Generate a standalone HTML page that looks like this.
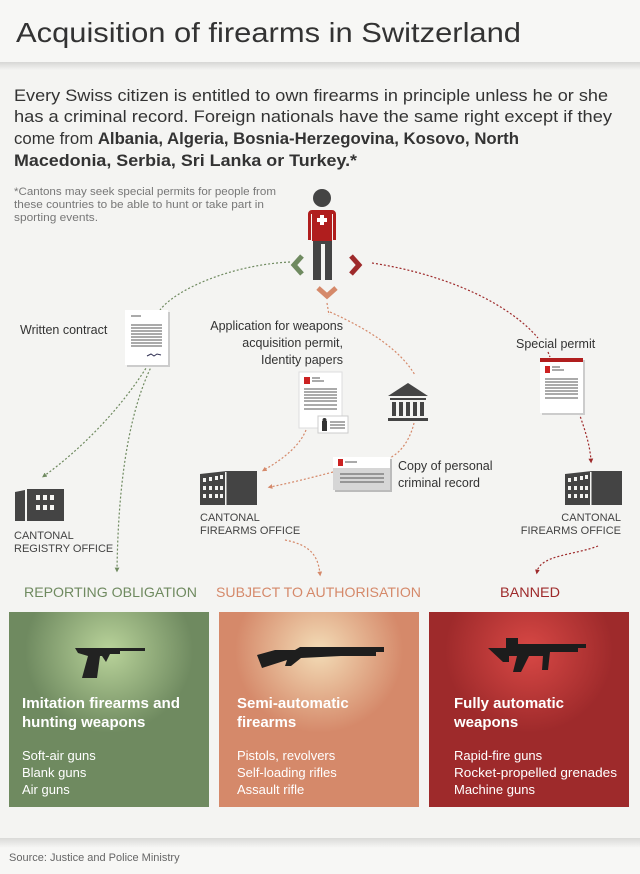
<!DOCTYPE html>
<html><head><meta charset="utf-8"><style>
html,body{margin:0;padding:0;background:#f4f4f2;}
svg{display:block;font-family:"Liberation Sans",sans-serif;}
</style></head><body>
<svg width="640" height="874" viewBox="0 0 640 874" xmlns="http://www.w3.org/2000/svg">
<defs>
<linearGradient id="sh" x1="0" y1="0" x2="0" y2="1"><stop offset="0" stop-color="#000" stop-opacity="0.12"/><stop offset="1" stop-color="#000" stop-opacity="0"/></linearGradient>
<radialGradient id="gg" cx="0.5" cy="0.2" r="0.6"><stop offset="0" stop-color="#b9d39a"/><stop offset="0.7" stop-color="#6f8a60"/><stop offset="1" stop-color="#6f8a60"/></radialGradient>
<radialGradient id="og" cx="0.5" cy="0.2" r="0.6"><stop offset="0" stop-color="#f3dcb6"/><stop offset="0.7" stop-color="#d5896a"/><stop offset="1" stop-color="#d5896a"/></radialGradient>
<radialGradient id="rg" cx="0.5" cy="0.2" r="0.6"><stop offset="0" stop-color="#d84845"/><stop offset="0.7" stop-color="#9e2a2b"/><stop offset="1" stop-color="#9e2a2b"/></radialGradient>
<marker id="ag" viewBox="0 0 10 10" refX="5" refY="5" markerWidth="4" markerHeight="4" orient="auto"><path d="M0,0L10,5L0,10z" fill="#6f8a60"/></marker>
<marker id="ao" viewBox="0 0 10 10" refX="5" refY="5" markerWidth="4" markerHeight="4" orient="auto"><path d="M0,0L10,5L0,10z" fill="#d5896a"/></marker>
<marker id="ar" viewBox="0 0 10 10" refX="5" refY="5" markerWidth="4" markerHeight="4" orient="auto"><path d="M0,0L10,5L0,10z" fill="#9e2a2b"/></marker>
</defs>
<rect width="640" height="62" fill="#f7f7f5"/>
<rect y="62" width="640" height="8" fill="url(#sh)"/>
<text x="16" y="42" font-size="28" fill="#333" textLength="505" lengthAdjust="spacingAndGlyphs">Acquisition of firearms in Switzerland</text>
<g font-size="17" fill="#333">
<text x="14" y="101" textLength="594" lengthAdjust="spacingAndGlyphs">Every Swiss citizen is entitled to own firearms in principle unless he or she</text>
<text x="14" y="122" textLength="598" lengthAdjust="spacingAndGlyphs">has a criminal record. Foreign nationals have the same right except if they</text>
<text x="14" y="144" textLength="505" lengthAdjust="spacingAndGlyphs">come from <tspan font-weight="bold">Albania, Algeria, Bosnia-Herzegovina, Kosovo, North</tspan></text>
<text x="14" y="166" font-weight="bold" textLength="343" lengthAdjust="spacingAndGlyphs">Macedonia, Serbia, Sri Lanka or Turkey.*</text>
</g>
<g font-size="11" fill="#777">
<text x="14" y="195" textLength="262" lengthAdjust="spacingAndGlyphs">*Cantons may seek special permits for people from</text>
<text x="14" y="208" textLength="250" lengthAdjust="spacingAndGlyphs">these countries to be able to hunt or take part in</text>
<text x="14" y="221" textLength="84" lengthAdjust="spacingAndGlyphs">sporting events.</text>
</g>
<!-- person -->
<circle cx="322" cy="198" r="9" fill="#444"/>
<path d="M312,210h20a4,4 0 0 1 4,4v26h-3v-26h-1v27h-20v-27h-1v26h-3v-26a4,4 0 0 1 4,-4z" fill="#b01e1e"/>
<path d="M313,241h19v39h-7v-36h-4v36h-8z" fill="#444"/>
<path d="M320,215h4v3h3v4h-3v3h-4v-3h-3v-4h3z" fill="#fff"/>
<path d="M302,256l-8,9l8,9" stroke="#6f8a60" stroke-width="5" fill="none"/>
<path d="M351,256l8,9l-8,9" stroke="#9e2a2b" stroke-width="5" fill="none"/>
<path d="M318,288l9,8l9,-8" stroke="#d5896a" stroke-width="5" fill="none"/>
<!-- connectors -->
<g fill="none" stroke-width="1.2" stroke-dasharray="2,2">
<path d="M290,262C230,265 175,290 160,310" stroke="#6f8a60"/>
<path d="M148,365C120,410 80,450 44,476" stroke="#6f8a60" marker-end="url(#ag)"/>
<path d="M152,365C125,420 118,500 117,570" stroke="#6f8a60" marker-end="url(#ag)"/>
<path d="M327,303L329,315" stroke="#d5896a"/>
<path d="M330,312C370,330 400,350 415,375" stroke="#d5896a"/>
<path d="M414,423C410,440 400,455 385,460" stroke="#d5896a"/>
<path d="M333,472C310,478 290,483 270,487" stroke="#d5896a" marker-end="url(#ao)"/>
<path d="M306,430C300,445 285,458 264,470" stroke="#d5896a" marker-end="url(#ao)"/>
<path d="M285,540C310,545 318,555 320,574" stroke="#d5896a" marker-end="url(#ao)"/>
<path d="M372,263C450,275 510,305 538,338" stroke="#9e2a2b"/>
<path d="M548,352L550,357" stroke="#9e2a2b"/>
<path d="M579,413C585,430 590,445 591,461" stroke="#9e2a2b" marker-end="url(#ar)"/>
<path d="M598,546C575,555 540,555 537,572" stroke="#9e2a2b" marker-end="url(#ar)"/>
</g>
<!-- written contract -->
<text x="20" y="334" font-size="12.5" fill="#333">Written contract</text>
<rect x="127" y="312" width="43" height="55" fill="#ccc"/>
<rect x="125" y="310" width="43" height="55" fill="#fff"/>
<g stroke="#555" stroke-width="1"><path d="M131,316h10M131,325h31M131,328h31M131,331h31M131,334h31M131,337h31M131,340h31M131,343h31M131,346h31"/></g>
<path d="M147,356l4,-2l3,2l3,-2l4,1" stroke="#335" fill="none"/>
<!-- application -->
<g font-size="12.5" fill="#333" text-anchor="end">
<text x="343" y="330">Application for weapons</text>
<text x="343" y="347">acquisition permit,</text>
<text x="343" y="364">Identity papers</text>
</g>
<rect x="299" y="372" width="43" height="56" fill="#fff" stroke="#ddd"/>
<rect x="304" y="377" width="6" height="7" fill="#c22"/>
<g stroke="#555"><path d="M312,378h8M312,381h12M304,389h33M304,392h33M304,395h33M304,398h33M304,401h33M304,405h33M304,409h33"/></g>
<rect x="318" y="416" width="30" height="17" fill="#fff" stroke="#ccc"/>
<rect x="322" y="421" width="5" height="10" fill="#333"/><circle cx="324.5" cy="420" r="2" fill="#333"/>
<g stroke="#555"><path d="M330,422h15M330,425h15M330,428h15"/></g>
<!-- bank -->
<path d="M388,396l20,-13l20,13z" fill="#444"/>
<g fill="#444"><rect x="390" y="398" width="36" height="2"/><rect x="392" y="402" width="4" height="14"/><rect x="399" y="402" width="4" height="14"/><rect x="406" y="402" width="4" height="14"/><rect x="413" y="402" width="4" height="14"/><rect x="420" y="402" width="4" height="14"/><rect x="388" y="418" width="40" height="3"/></g>
<!-- criminal record -->
<rect x="335" y="459" width="57" height="33" fill="#bbb"/>
<rect x="333" y="457" width="57" height="33" fill="#d6d6d6"/>
<rect x="333" y="457" width="57" height="11" fill="#fff"/>
<rect x="338" y="459" width="5" height="7" fill="#c22"/>
<g stroke="#555"><path d="M345,462h12M340,474h44M340,478h44M340,482h44"/></g>
<text x="398" y="470" font-size="12.5" fill="#333">Copy of personal</text>
<text x="398" y="487" font-size="12.5" fill="#333">criminal record</text>
<!-- special permit -->
<text x="516" y="348" font-size="12.5" fill="#333">Special permit</text>
<rect x="542" y="360" width="43" height="55" fill="#ccc"/>
<rect x="540" y="358" width="43" height="55" fill="#fff"/>
<rect x="540" y="358" width="43" height="4" fill="#b01e1e"/>
<rect x="545" y="366" width="5" height="7" fill="#c22"/>
<g stroke="#555"><path d="M552,367h8M552,370h12M545,379h33M545,382h33M545,385h33M545,388h33M545,391h33M545,394h33M545,398h33"/></g>
<!-- buildings -->
<g fill="#444">
<path d="M15,500v-8l10,-2v31h-10z"/><path d="M27,489h37v32h-37z"/>
<path d="M200,484v-10l27,-3h30v34h-57z"/>
<path d="M565,484v-10l27,-3h30v34h-57z"/>
</g>
<g fill="#f4f4f2">
<rect x="36" y="495" width="4" height="5"/><rect x="43" y="495" width="4" height="5"/><rect x="50" y="495" width="4" height="5"/>
<rect x="36" y="505" width="4" height="5"/><rect x="43" y="505" width="4" height="5"/><rect x="50" y="505" width="4" height="5"/>
<rect x="225" y="472" width="1.5" height="33"/><rect x="590" y="472" width="1.5" height="33"/>
</g>
<g fill="#f4f4f2">
<rect x="203" y="478" width="3" height="4"/><rect x="209" y="477" width="3" height="4"/><rect x="215" y="476" width="3" height="4"/><rect x="220" y="475" width="3" height="4"/>
<rect x="203" y="486" width="3" height="4"/><rect x="209" y="486" width="3" height="4"/><rect x="215" y="486" width="3" height="4"/><rect x="220" y="486" width="3" height="4"/>
<rect x="203" y="494" width="3" height="4"/><rect x="209" y="494" width="3" height="4"/><rect x="215" y="494" width="3" height="4"/><rect x="220" y="494" width="3" height="4"/>
<rect x="568" y="478" width="3" height="4"/><rect x="574" y="477" width="3" height="4"/><rect x="580" y="476" width="3" height="4"/><rect x="585" y="475" width="3" height="4"/>
<rect x="568" y="486" width="3" height="4"/><rect x="574" y="486" width="3" height="4"/><rect x="580" y="486" width="3" height="4"/><rect x="585" y="486" width="3" height="4"/>
<rect x="568" y="494" width="3" height="4"/><rect x="574" y="494" width="3" height="4"/><rect x="580" y="494" width="3" height="4"/><rect x="585" y="494" width="3" height="4"/>
</g>
<g font-size="11" fill="#444">
<text x="14" y="539">CANTONAL</text><text x="14" y="552">REGISTRY OFFICE</text>
<text x="200" y="521">CANTONAL</text><text x="200" y="534">FIREARMS OFFICE</text>
<text x="621" y="521" text-anchor="end">CANTONAL</text><text x="621" y="534" text-anchor="end">FIREARMS OFFICE</text>
</g>
<g font-size="14">
<text x="24" y="597" fill="#6f8a60" textLength="173" lengthAdjust="spacingAndGlyphs">REPORTING OBLIGATION</text>
<text x="216" y="597" fill="#d5896a" textLength="205" lengthAdjust="spacingAndGlyphs">SUBJECT TO AUTHORISATION</text>
<text x="500" y="597" fill="#9e2a2b" textLength="60" lengthAdjust="spacingAndGlyphs">BANNED</text>
</g>
<!-- panels -->
<rect x="9" y="612" width="200" height="195" fill="url(#gg)"/>
<rect x="219" y="612" width="200" height="195" fill="url(#og)"/>
<rect x="429" y="612" width="200" height="195" fill="url(#rg)"/>
<!-- guns -->
<path d="M75,648h70v3h-25v3h-10l-4,8l-4,-6h-2l-3,22h-15l6,-22l-10,-3z" fill="#222"/>
<path d="M257,655l18,-5l20,0l5,-3h84v5h-8v4h-35l-40,2l-10,8h-6l2,-6l-25,8z" fill="#1e1e1e"/>
<path d="M488,648h18v-10h12v6h68v4h-8v4h-28l-2,18h-6l1,-14h-14l-8,16h-8l4,-16h-8v6h-6z" fill="#1c1c1c"/>
<g fill="#fff">
<g font-weight="bold" font-size="15">
<text x="22" y="708" textLength="158" lengthAdjust="spacingAndGlyphs">Imitation firearms and</text><text x="22" y="727">hunting weapons</text>
<text x="237" y="708">Semi-automatic</text><text x="237" y="727">firearms</text>
<text x="454" y="708">Fully automatic</text><text x="454" y="727">weapons</text>
</g>
<g font-size="13">
<text x="22" y="760">Soft-air guns</text><text x="22" y="777">Blank guns</text><text x="22" y="794">Air guns</text>
<text x="237" y="760">Pistols, revolvers</text><text x="237" y="777">Self-loading rifles</text><text x="237" y="794">Assault rifle</text>
<text x="454" y="760">Rapid-fire guns</text><text x="454" y="777" textLength="163" lengthAdjust="spacingAndGlyphs">Rocket-propelled grenades</text><text x="454" y="794">Machine guns</text>
</g>
</g>
<rect y="838" width="640" height="36" fill="#f7f7f5"/>
<rect y="838" width="640" height="10" fill="url(#sh)"/>
<text x="9" y="861" font-size="11" fill="#666">Source: Justice and Police Ministry</text>
</svg>
</body></html>
